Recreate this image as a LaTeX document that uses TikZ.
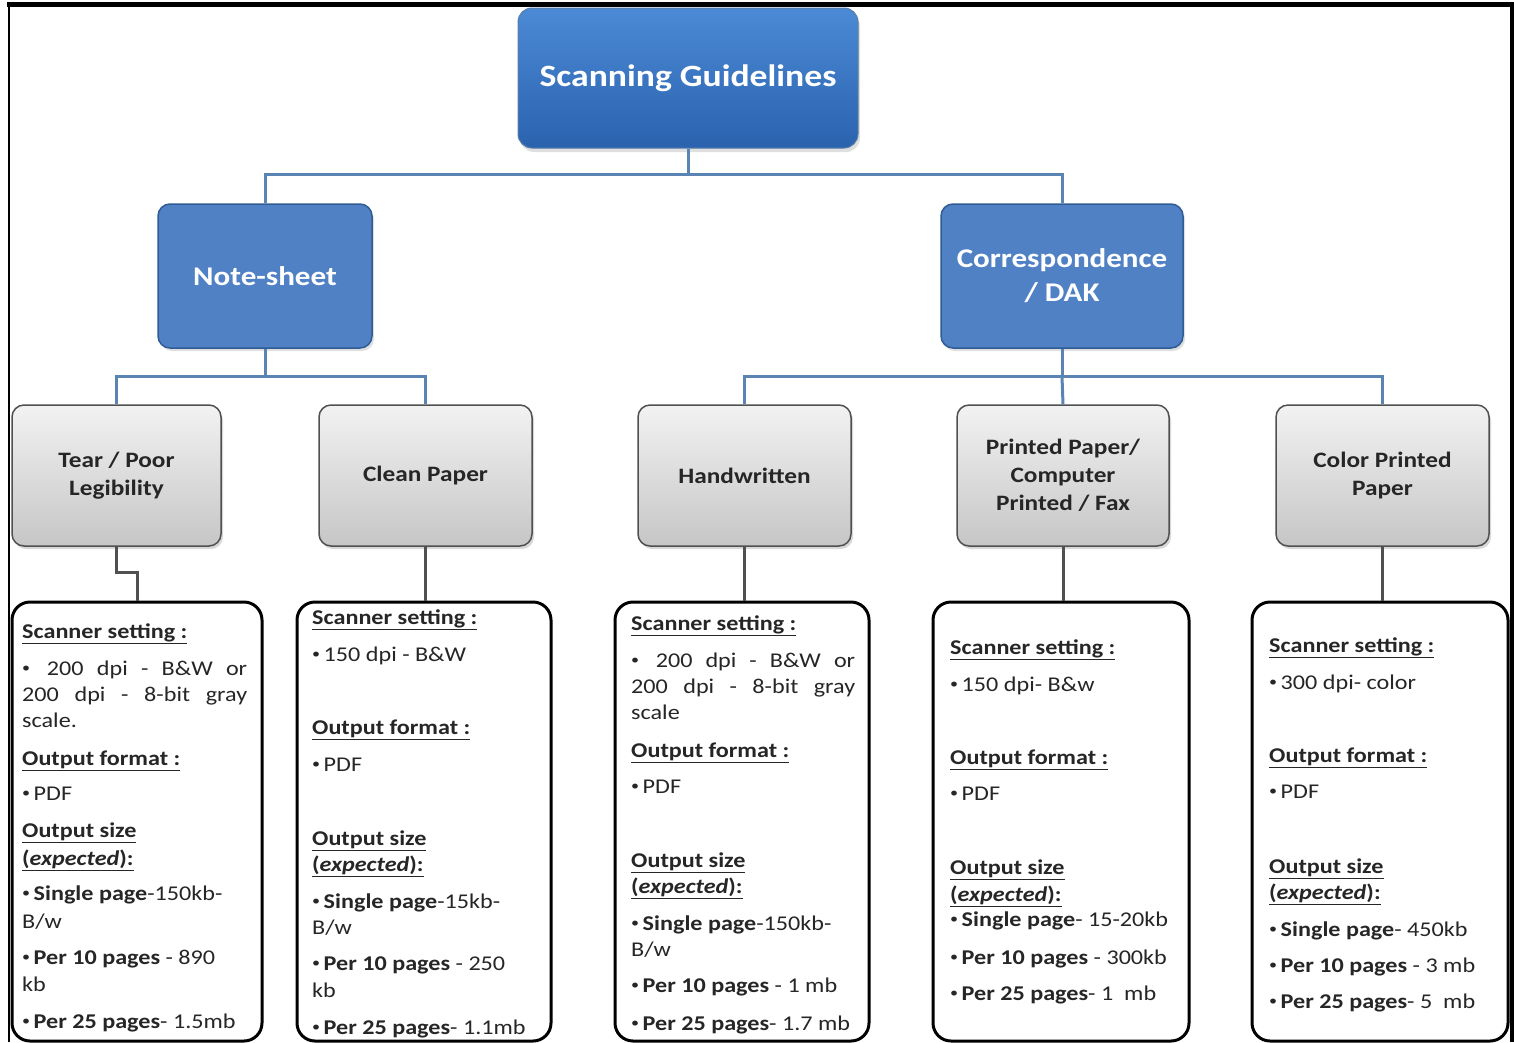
\documentclass[tikz,border=0pt]{standalone}
\usepackage{fontspec}
\usepackage{graphicx}
\setmainfont{Carlito}[FakeStretch=1.15]
\usetikzlibrary{shadows}
\definecolor{topA}{HTML}{4C8AD6}
\definecolor{topB}{HTML}{2A62AE}
\definecolor{blueF}{HTML}{4F81C4}
\definecolor{blueD}{HTML}{2F5C94}
\definecolor{bline}{HTML}{5A84B4}
\definecolor{grayA}{HTML}{F2F2F2}
\definecolor{grayB}{HTML}{C6C6C6}
\definecolor{grayD}{HTML}{505050}
\definecolor{txt}{HTML}{262626}
\newcommand\bul{{\fontsize{14}{14}\selectfont\raisebox{3pt}{•}}\,}
\newcommand\hd[1]{\textbf{\underline{#1}}}
\newcommand\expd{\textbf{\underline{(\textit{expected}):}}}
\begin{document}
\begin{tikzpicture}[x=1pt,y=-1pt,
  topbox/.style={draw=blueD!80, line width=1pt, rounded corners=14pt, top color=topA, bottom color=topB,
    minimum width=340pt, minimum height=140pt, text=white, font=\fontsize{31}{36}\selectfont\bfseries,
    drop shadow={opacity=0.25, shadow xshift=2pt, shadow yshift=-4pt}},
  bluebox/.style={draw=blueD, line width=1.5pt, rounded corners=12pt, fill=blueF,
    minimum height=144pt, text=white, align=center, font=\fontsize{27}{34}\selectfont\bfseries,
    drop shadow={opacity=0.25, shadow xshift=2pt, shadow yshift=-3pt}},
  graybox/.style={draw=grayD, line width=1.5pt, rounded corners=12pt, top color=grayA, bottom color=grayB,
    minimum height=141pt, text=txt, align=center, font=\fontsize{22}{28}\selectfont\bfseries,
    drop shadow={opacity=0.3, shadow xshift=2pt, shadow yshift=-3pt}},
  txtbox/.style={draw=black, line width=3pt, rounded corners=18pt, fill=white, minimum height=439pt},
  bconn/.style={draw=bline, line width=3pt},
  gconn/.style={draw=grayD, line width=3pt},
  ln/.style={anchor=base west, inner sep=0pt, text=txt, font=\fontsize{21}{24}\selectfont}
]
\useasboundingbox (0,0) rectangle (1514,1042);
\fill[white] (0,0) rectangle (1514,1042);

% hierarchy boxes
\node[topbox] (top) at (688,78) {Scanning Guidelines};
\node[bluebox, minimum width=214pt] (note) at (265,276) {Note-sheet};
\node[bluebox, minimum width=242pt] (corr) at (1062,276) {Correspondence\\/ DAK};

\node[graybox, minimum width=209pt] (tear) at (116.5,475.5) {Tear / Poor\\Legibility};
\node[graybox, minimum width=213pt] (clean) at (425.5,475.5) {Clean Paper};
\node[graybox, minimum width=213pt] (hand) at (744.5,475.5) {Handwritten};
\node[graybox, minimum width=212pt] (print) at (1063,475.5) {Printed Paper/\\Computer\\Printed / Fax};
\node[graybox, minimum width=213pt] (color) at (1382.5,475.5) {Color Printed\\Paper};

% text boxes
\node[txtbox, minimum width=250pt] (b1) at (137,821.5) {};
\node[txtbox, minimum width=254pt] (b2) at (424,821.5) {};
\node[txtbox, minimum width=254pt] (b3) at (742,821.5) {};
\node[txtbox, minimum width=256pt] (b4) at (1061,821.5) {};
\node[txtbox, minimum width=256pt] (b5) at (1380,821.5) {};

% blue connectors
\draw[bconn] (top.south) -- ++(0,26) coordinate (j0) -| (note.north);
\draw[bconn] (j0) -| (corr.north);
\draw[bconn] (note.south) -- ++(0,28) coordinate (j1) -| (tear.north);
\draw[bconn] (j1) -| (clean.north);
\draw[bconn] (corr.south) -- ++(0,28) coordinate (j2) -| (hand.north);
\draw[bconn] (j2) -| (color.north);
\draw[bconn] (j2) -- (print.north);

% gray connectors
\draw[gconn] (tear.south) -- ++(0,26) -| (b1.north);
\draw[gconn] (clean.south) -- (clean.south |- b2.north);
\draw[gconn] (hand.south) -- (hand.south |- b3.north);
\draw[gconn] (print.south) -- (print.south |- b4.north);
\draw[gconn] (color.south) -- (color.south |- b5.north);

% frame
\draw[black, line width=2pt] (9,1042) -- (9,5);
\draw[black, line width=5pt] (7,4) -- (1512,4);
\draw[black, line width=4pt] (1511.5,2) -- (1511.5,1042);

% box 1
\node[ln] (a1) at (22,638) {\hd{Scanner setting :}};
\node[ln] (a2) at (22,675) {\makebox[225pt][l]{\bul\hfill 200\hfill dpi\hfill -\hfill B\&W\hfill or}};
\node[ln] (a3) at (22,701) {\makebox[225pt][l]{200\hfill dpi\hfill -\hfill 8-bit\hfill gray}};
\node[ln] (a4) at (22,727) {scale.};
\node[ln] (a5) at (22,765) {\hd{Output format :}};
\node[ln] (a6) at (22,800) {\bul PDF};
\node[ln] (a7) at (22,837) {\hd{Output size}};
\node[ln] (a8) at (22,865) {\expd};
\node[ln] (a9) at (22,900) {\bul\textbf{Single page}-150kb-};
\node[ln] (a10) at (22,928) {B/w};
\node[ln] (a11) at (22,964) {\bul\textbf{Per 10 pages} - 890};
\node[ln] (a12) at (22,991) {kb};
\node[ln] (a13) at (22,1028) {\bul\textbf{Per 25 pages}- 1.5mb};

% box 2
\node[ln] (c1) at (312,624) {\hd{Scanner setting :}};
\node[ln] (c2) at (312,661) {\bul 150 dpi - B\&W};
\node[ln] (c3) at (312,734) {\hd{Output format :}};
\node[ln] (c4) at (312,771) {\bul PDF};
\node[ln] (c5) at (312,845) {\hd{Output size}};
\node[ln] (c6) at (312,871) {\expd};
\node[ln] (c7) at (312,908) {\bul\textbf{Single page}-15kb-};
\node[ln] (c8) at (312,934) {B/w};
\node[ln] (c9) at (312,970) {\bul\textbf{Per 10 pages} - 250};
\node[ln] (c10) at (312,997) {kb};
\node[ln] (c11) at (312,1034) {\bul\textbf{Per 25 pages}- 1.1mb};

% box 3
\node[ln] (d1) at (631,630) {\hd{Scanner setting :}};
\node[ln] (d2) at (631,667) {\makebox[224pt][l]{\bul\hfill 200\hfill dpi\hfill -\hfill B\&W\hfill or}};
\node[ln] (d3) at (631,693) {\makebox[224pt][l]{200\hfill dpi\hfill -\hfill 8-bit\hfill gray}};
\node[ln] (d4) at (631,719) {scale};
\node[ln] (d5) at (631,757) {\hd{Output format :}};
\node[ln] (d6) at (631,793) {\bul PDF};
\node[ln] (d7) at (631,867) {\hd{Output size}};
\node[ln] (d8) at (631,893) {\expd};
\node[ln] (d9) at (631,930) {\bul\textbf{Single page}-150kb-};
\node[ln] (d10) at (631,956) {B/w};
\node[ln] (d11) at (631,992) {\bul\textbf{Per 10 pages} - 1 mb};
\node[ln] (d12) at (631,1030) {\bul\textbf{Per 25 pages}- 1.7 mb};

% box 4
\node[ln] (e1) at (950,654) {\hd{Scanner setting :}};
\node[ln] (e2) at (950,691) {\bul 150 dpi- B\&w};
\node[ln] (e3) at (950,764) {\hd{Output format :}};
\node[ln] (e4) at (950,800) {\bul PDF};
\node[ln] (e5) at (950,874) {\hd{Output size}};
\node[ln] (e6) at (950,901) {\expd};
\node[ln] (e7) at (950,926) {\bul\textbf{Single page}- 15-20kb};
\node[ln] (e8) at (950,964) {\bul\textbf{Per 10 pages} - 300kb};
\node[ln] (e9) at (950,1000) {\bul\textbf{Per 25 pages}- 1\ \ mb};

% box 5
\node[ln] (f1) at (1269,652) {\hd{Scanner setting :}};
\node[ln] (f2) at (1269,689) {\bul 300 dpi- color};
\node[ln] (f3) at (1269,762) {\hd{Output format :}};
\node[ln] (f4) at (1269,798) {\bul PDF};
\node[ln] (f5) at (1269,873) {\hd{Output size}};
\node[ln] (f6) at (1269,899) {\expd};
\node[ln] (f7) at (1269,936) {\bul\textbf{Single page}- 450kb};
\node[ln] (f8) at (1269,972) {\bul\textbf{Per 10 pages} - 3 mb};
\node[ln] (f9) at (1269,1008) {\bul\textbf{Per 25 pages}- 5\ \ mb};
\end{tikzpicture}
\end{document}
